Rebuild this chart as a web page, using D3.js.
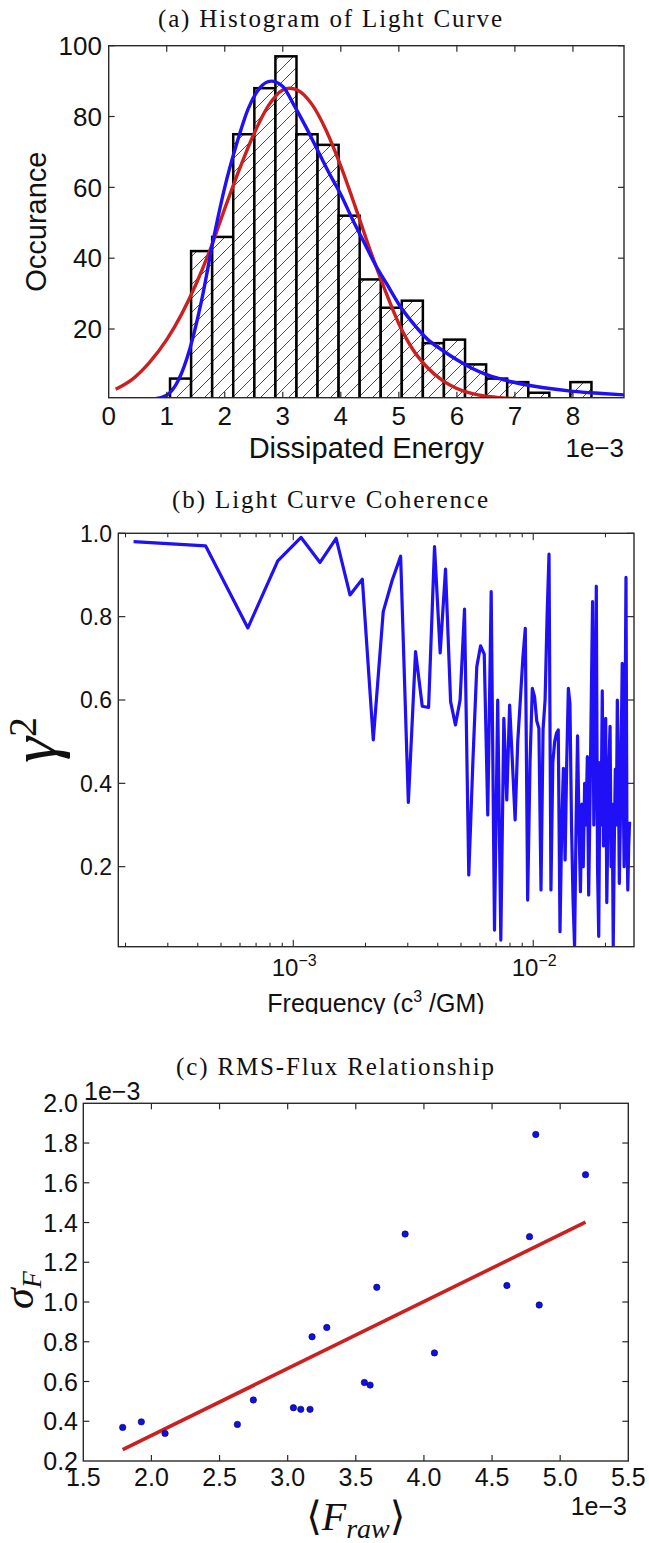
<!DOCTYPE html>
<html><head><meta charset="utf-8">
<script src="https://cdn.jsdelivr.net/npm/d3@7"></script>
<style>
body{margin:0;background:#fff}
svg{display:block}
.sans{font-family:"Liberation Sans",Arial,sans-serif;fill:#111}
.serif{font-family:"Liberation Serif","DejaVu Serif",serif;fill:#111}
</style></head><body>
<svg id="fig" width="649" height="1543"></svg>
<script>
// ---------- Panel (a) data: histogram of dissipated energy (units of 1e-3) ----------
const histBinEdges = [1.057,1.420,1.783,2.146,2.510,2.873,3.236,3.599,3.962,4.325,4.688,5.051,5.414,5.777,6.141,6.504,6.867,7.230,7.593,7.956,8.319];
const histCounts   = [6,42,46,75,88,97,75,72,52,34,26,28,16,17,10,6,5,2,0,5];
const lognormFitX  = [0,0.4,0.8,1.0,1.2,1.4,1.6,1.8,2.0,2.2,2.4,2.6,2.8,3.0,3.2,3.4,3.6,3.8,4.0,4.2,4.4,4.6,4.8,5.0,5.25,5.5,5.75,6.0,6.25,6.5,6.75,7.0,7.5,8.0,8.5,8.88];
const lognormFitY  = [0.3,0.3,0.35,1.3,5.5,14.5,28,45,60,72,82,88,90,88.5,83,77,70.5,64,58,51,44.5,38,32.5,27,21.5,17,14,11.3,9,7.2,5.9,4.9,3.4,2.4,1.8,1.4];
const gaussFitX    = [0.12,0.4,0.7,1.0,1.25,1.5,1.75,2.0,2.25,2.5,2.75,3.0,3.12,3.25,3.5,3.75,4.0,4.25,4.5,4.75,5.0,5.25,5.5,5.75,6.0,6.25,6.5,6.75,7.0,7.3];
const gaussFitY    = [3.0,5.7,10.5,17,24,32.5,42.5,54,65,75,83,87.5,88,87.5,83.5,76,66,54.5,42.5,31.5,21.5,14,9,5.5,3.2,1.8,1.0,0.6,0.3,0.1];
const histXTicks   = [0,1,2,3,4,5,6,7,8];
const histYTicks   = [20,40,60,80,100];

// ---------- Panel (b) data: coherence vs frequency (frequency in units of 1e-4) ----------
const cohFreq = [2.16,4.31,6.47,8.62,10.78,12.93,15.09,17.24,19.40,21.55,23.71,25.86,28.02,30.17,32.33,34.48,36.64,38.79,40.95,43.10,
45.26,47.41,49.57,51.72,53.88,56.03,58.19,60.34,62.50,64.65,66.81,68.96,71.12,73.27,75.43,77.58,79.74,81.89,84.05,86.20,
88.36,90.51,92.67,94.82,96.98,99.13,101.29,103.44,105.60,107.75,109.91,112.06,114.22,116.37,118.53,120.68,122.84,124.99,127.15,129.30,
131.46,133.61,135.77,137.92,140.08,142.23,144.39,146.54,148.70,150.85,153.01,155.16,157.32,159.47,161.63,163.78,165.94,168.09,170.25,172.40,
174.56,176.71,178.87,181.02,183.18,185.33,187.49,189.64,191.80,193.95,196.11,198.26,200.42,202.57,204.73,206.88,209.04,211.19,213.35,215.50,
217.66,219.81,221.97,224.12,226.28,228.43,230.59,232.74,234.90,237.05,239.21,241.36,243.52,245.67,247.83,249.98,252.14];
const cohValue = [0.98,0.97,0.773,0.934,0.99,0.93,0.988,0.852,0.89,0.504,0.812,0.888,0.945,0.354,0.716,0.585,0.582,0.968,0.713,0.914,
0.596,0.54,0.6,0.818,0.18,0.45,0.68,0.73,0.71,0.324,0.86,0.048,0.6,0.024,0.556,0.36,0.588,0.45,0.312,0.5,
0.6,0.7,0.772,0.12,0.45,0.628,0.608,0.55,0.532,0.144,0.53,0.6,0.8,0.95,0.144,0.45,0.5,0.52,0.528,0.044,
0.3,0.436,0.216,0.45,0.628,0.592,0.3,0.12,0.008,0.3,0.514,0.3,0.14,0.35,0.2,0.4,0.3,0.464,0.132,0.35,
0.6,0.836,0.3,0.5,0.873,0.2,0.033,0.45,0.3,0.622,0.25,0.4,0.556,0.114,0.3,0.45,0.537,0.2,0.35,0.01,
0.25,0.434,0.3,0.6,0.45,0.16,0.3,0.5,0.688,0.4,0.2,0.55,0.894,0.3,0.144,0.25,0.308];
const cohYTicks = [0.2,0.4,0.6,0.8,1.0];
const cohYTickLabels = ["0.2","0.4","0.6","0.8","1.0"];
const cohXMajor = [1e-3,1e-2];
const cohXMajorExp = ["−3","−2"];

// ---------- Panel (c) data: RMS-flux (units of 1e-3) ----------
const fluxMean = [1.789,1.926,2.100,2.631,2.748,3.042,3.096,3.164,3.179,3.287,3.563,3.605,3.654,3.862,4.077,4.609,4.775,4.821,4.846,5.186];
const fluxRms  = [0.369,0.397,0.339,0.384,0.507,0.468,0.460,0.460,0.825,0.872,0.595,0.582,1.074,1.342,0.744,1.083,1.329,1.843,0.985,1.641];
const fitLineX = [1.789,5.186];
const fitLineY = [0.257,1.402];
const rmsXTicks = [1.5,2.0,2.5,3.0,3.5,4.0,4.5,5.0,5.5];
const rmsYTicks = [0.2,0.4,0.6,0.8,1.0,1.2,1.4,1.6,1.8,2.0];

const svg = d3.select("#fig");
const defs = svg.append("defs");
const BLUE = "#1f10f5", RED = "#cc2020", FRAME = "#2a2a2a";

function clip(id, x0, x1, y0, y1){
  defs.append("clipPath").attr("id", id).append("rect")
    .attr("x", x0).attr("y", y0).attr("width", x1 - x0).attr("height", y1 - y0);
}
function frame(x0, x1, y0, y1){
  svg.append("rect").attr("x", x0).attr("y", y0).attr("width", x1 - x0).attr("height", y1 - y0)
    .attr("fill", "none").attr("stroke", FRAME).attr("stroke-width", 1.4);
}
function xTicks(scale, vals, y0, y1, len){
  vals.forEach(v => {
    const x = scale(v);
    svg.append("line").attr("x1", x).attr("x2", x).attr("y1", y1).attr("y2", y1 - len).attr("stroke", FRAME).attr("stroke-width", 1.2);
    svg.append("line").attr("x1", x).attr("x2", x).attr("y1", y0).attr("y2", y0 + len).attr("stroke", FRAME).attr("stroke-width", 1.2);
  });
}
function yTicks(scale, vals, x0, x1, len){
  vals.forEach(v => {
    const y = scale(v);
    svg.append("line").attr("x1", x0).attr("x2", x0 + len).attr("y1", y).attr("y2", y).attr("stroke", FRAME).attr("stroke-width", 1.2);
    svg.append("line").attr("x1", x1).attr("x2", x1 - len).attr("y1", y).attr("y2", y).attr("stroke", FRAME).attr("stroke-width", 1.2);
  });
}

// ================= Panel (a) =================
{
  const L = 108.7, R = 624, T = 45.7, B = 397.7;
  const x = d3.scaleLinear().domain([0, 8.88]).range([L, R]);
  const y = d3.scaleLinear().domain([0.6, 100]).range([B, T]);
  clip("clipA", L, R, T, B);

  const pat = defs.append("pattern").attr("id", "hatch").attr("patternUnits", "userSpaceOnUse")
    .attr("width", 14).attr("height", 14);
  pat.append("rect").attr("width", 14).attr("height", 14).attr("fill", "#fff");
  pat.append("path").attr("d", "M0,14 L14,0 M-3.5,3.5 L3.5,-3.5 M10.5,17.5 L17.5,10.5")
    .attr("stroke", "#3a3a3a").attr("stroke-width", 0.9);

  svg.append("text").attr("class", "serif").attr("x", 330).attr("y", 27).attr("text-anchor", "middle")
    .attr("font-size", 25).attr("textLength", 344).attr("lengthAdjust", "spacing").text("(a) Histogram of Light Curve");

  const g = svg.append("g").attr("clip-path", "url(#clipA)");
  const bins = histCounts.map((c, i) => ({x0: histBinEdges[i], x1: histBinEdges[i + 1], c}));
  g.selectAll("rect.bar").data(bins.filter(d => d.c > 0)).join("rect").attr("class", "bar")
    .attr("x", d => x(d.x0)).attr("width", d => x(d.x1) - x(d.x0))
    .attr("y", d => y(d.c)).attr("height", d => B + 3 - y(d.c))
    .attr("fill", "url(#hatch)").attr("stroke", "#000").attr("stroke-width", 2.5);

  const line = d3.line().curve(d3.curveMonotoneX).x(d => x(d[0])).y(d => y(d[1]));
  g.append("path").datum(gaussFitX.map((v, i) => [v, gaussFitY[i]])).attr("d", line)
    .attr("fill", "none").attr("stroke", RED).attr("stroke-width", 3.4).attr("stroke-linejoin", "round");
  g.append("path").datum(lognormFitX.map((v, i) => [v, lognormFitY[i]])).attr("d", line)
    .attr("fill", "none").attr("stroke", BLUE).attr("stroke-width", 3.4).attr("stroke-linejoin", "round");

  frame(L, R, T, B);
  xTicks(x, histXTicks.slice(1), T, B, 6);
  yTicks(y, histYTicks, L, R, 6);
  histXTicks.forEach(v => svg.append("text").attr("class", "sans").attr("x", x(v)).attr("y", 425)
    .attr("text-anchor", "middle").attr("font-size", 26).text(v));
  histYTicks.forEach(v => svg.append("text").attr("class", "sans").attr("x", 102).attr("y", y(v) + 9.3)
    .attr("text-anchor", "end").attr("font-size", 26).text(v));
  svg.append("text").attr("class", "sans").attr("x", 624).attr("y", 457).attr("text-anchor", "end")
    .attr("font-size", 26).text("1e−3");
  svg.append("text").attr("class", "sans").attr("x", (L + R) / 2).attr("y", 458).attr("text-anchor", "middle")
    .attr("font-size", 29).text("Dissipated Energy");
  svg.append("text").attr("class", "sans").attr("transform", `translate(45.5,${(T + B) / 2}) rotate(-90)`)
    .attr("text-anchor", "middle").attr("font-size", 29).text("Occurance");
}

// ================= Panel (b) =================
{
  const L = 118.3, R = 634, T = 533.3, B = 946.7;
  const x = d3.scaleLog().domain([1.866e-4, 0.0263]).range([L, R]);
  const y = d3.scaleLinear().domain([0.008, 1.0]).range([B, T]);
  clip("clipB", L, R, T, B);
  clip("clipBlabel", 0, 649, 940, 1014);

  svg.append("text").attr("class", "serif").attr("x", 330).attr("y", 508).attr("text-anchor", "middle")
    .attr("font-size", 25).attr("textLength", 316).attr("lengthAdjust", "spacing").text("(b) Light Curve Coherence");

  const pts = cohFreq.map((f, i) => [f * 1e-4, cohValue[i]]);
  svg.append("g").attr("clip-path", "url(#clipB)").append("path").datum(pts)
    .attr("d", d3.line().x(d => x(d[0])).y(d => y(d[1])))
    .attr("fill", "none").attr("stroke", BLUE).attr("stroke-width", 3.2).attr("stroke-linejoin", "round");

  frame(L, R, T, B);
  const minor = x.ticks().filter(v => v >= 1.866e-4 && v <= 0.0263);
  minor.forEach(v => {
    const isMajor = cohXMajor.some(m => Math.abs(m - v) / m < 1e-6);
    const len = isMajor ? 7 : 4;
    const xx = x(v);
    svg.append("line").attr("x1", xx).attr("x2", xx).attr("y1", B).attr("y2", B - len).attr("stroke", FRAME).attr("stroke-width", 1.1);
    svg.append("line").attr("x1", xx).attr("x2", xx).attr("y1", T).attr("y2", T + len).attr("stroke", FRAME).attr("stroke-width", 1.1);
  });
  yTicks(y, cohYTicks, L, R, 7);
  cohYTicks.forEach((v, i) => svg.append("text").attr("class", "sans").attr("x", 112).attr("y", y(v) + 8.3)
    .attr("text-anchor", "end").attr("font-size", 23).text(cohYTickLabels[i]));
  cohXMajor.forEach((v, i) => {
    const t = svg.append("text").attr("class", "sans").attr("x", x(v) + 1).attr("y", 976)
      .attr("text-anchor", "middle").attr("font-size", 24);
    t.append("tspan").text("10");
    t.append("tspan").attr("dy", -10).attr("font-size", 16).text(cohXMajorExp[i]);
  });
  const xl = svg.append("text").attr("class", "sans").attr("clip-path", "url(#clipBlabel)")
    .attr("x", 376).attr("y", 1012).attr("text-anchor", "middle").attr("font-size", 25);
  xl.append("tspan").text("Frequency (c");
  xl.append("tspan").attr("dy", -10).attr("font-size", 16).text("3");
  xl.append("tspan").attr("dy", 10).text(" /GM)");

  const yl = svg.append("text").attr("class", "serif").attr("transform", `translate(56,${(T + B) / 2}) rotate(-90)`)
    .attr("text-anchor", "middle").attr("font-size", 66).attr("font-style", "italic");
  yl.append("tspan").text("γ");
  yl.append("tspan").attr("dy", -20).attr("font-size", 40).attr("font-style", "normal").text("2");
}

// ================= Panel (c) =================
{
  const L = 83.3, R = 628.3, T = 1103.3, B = 1461;
  const x = d3.scaleLinear().domain([1.5, 5.5]).range([L, R]);
  const y = d3.scaleLinear().domain([0.2, 2.0]).range([B, T]);
  clip("clipC", L, R, T, B);

  svg.append("text").attr("class", "serif").attr("x", 335).attr("y", 1075).attr("text-anchor", "middle")
    .attr("font-size", 25).attr("textLength", 318).attr("lengthAdjust", "spacing").text("(c) RMS-Flux Relationship");

  const g = svg.append("g").attr("clip-path", "url(#clipC)");
  g.append("path").datum(fitLineX.map((v, i) => [v, fitLineY[i]]))
    .attr("d", d3.line().x(d => x(d[0])).y(d => y(d[1])))
    .attr("fill", "none").attr("stroke", RED).attr("stroke-width", 3.6);
  g.selectAll("circle").data(fluxMean.map((v, i) => [v, fluxRms[i]])).join("circle")
    .attr("cx", d => x(d[0])).attr("cy", d => y(d[1])).attr("r", 3.2)
    .attr("fill", "#1010e6").attr("stroke", "#000050").attr("stroke-width", 0.6);

  frame(L, R, T, B);
  xTicks(x, rmsXTicks.slice(1, -1), T, B, 6);
  yTicks(y, rmsYTicks.slice(1, -1), L, R, 6);
  rmsXTicks.forEach(v => svg.append("text").attr("class", "sans").attr("x", x(v)).attr("y", 1486)
    .attr("text-anchor", "middle").attr("font-size", 25).text(v.toFixed(1)));
  rmsYTicks.forEach(v => svg.append("text").attr("class", "sans").attr("x", 78).attr("y", y(v) + 9)
    .attr("text-anchor", "end").attr("font-size", 25).text(v.toFixed(1)));
  svg.append("text").attr("class", "sans").attr("x", 84).attr("y", 1100).attr("font-size", 25).text("1e−3");
  svg.append("text").attr("class", "sans").attr("x", 627).attr("y", 1515).attr("text-anchor", "end")
    .attr("font-size", 25).text("1e−3");

  const xl = svg.append("text").attr("class", "serif").attr("x", (L + R) / 2).attr("y", 1530)
    .attr("text-anchor", "middle").attr("font-size", 40);
  xl.append("tspan").text("⟨");
  xl.append("tspan").attr("font-style", "italic").text("F");
  xl.append("tspan").attr("font-style", "italic").attr("font-size", 28).attr("dy", 8).text("raw");
  xl.append("tspan").attr("dy", -8).text("⟩");

  const yl = svg.append("text").attr("class", "serif").attr("transform", `translate(33,${(T + B) / 2 + 8}) rotate(-90)`)
    .attr("text-anchor", "middle").attr("font-size", 42).attr("font-style", "italic");
  yl.append("tspan").text("σ");
  yl.append("tspan").attr("font-size", 28).attr("dy", 8).text("F");
}
</script></body></html>
